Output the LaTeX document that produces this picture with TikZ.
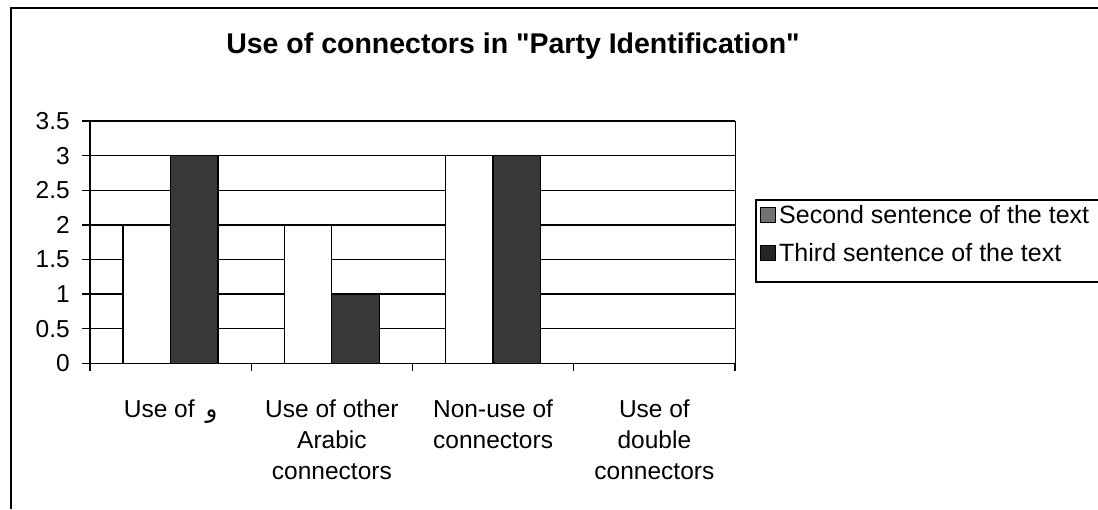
\documentclass[tikz,border=0pt]{standalone}
\usepackage{fontspec}
\setmainfont{Liberation Sans}
\newfontfamily\arabicfont[Script=Arabic]{DejaVu Sans}
\TeXXeTstate=1

\begin{document}
\begin{tikzpicture}[x=1pt,y=-1pt,
  frameline/.style={line width=1.6pt},
  gridline/.style={line width=1.4pt},
  tickline/.style={line width=1.2pt},
  barsecond/.style={draw=black,line width=1.3pt,fill=white},
  barthird/.style={draw=black,line width=1.3pt,fill=black!78},
  ylab/.style={font=\fontsize{24.5}{28}\selectfont,inner sep=0pt,anchor=east},
  xlab/.style={font=\fontsize{24.5}{31}\selectfont,inner sep=0pt,anchor=north,align=center},
  leglab/.style={font=\fontsize{25}{28}\selectfont,inner sep=0pt,anchor=base west},
  titlelab/.style={font=\bfseries\fontsize{28.5}{32}\selectfont,inner sep=0pt}
]
\useasboundingbox (0,0) rectangle (1098,509);

% outer chart frame (left and top edges)
\draw[frameline] (11,509) -- (11,8) -- (1098,8);

% title
\node[titlelab] (title) at (513,46) {Use of connectors in \textquotedbl Party Identification\textquotedbl};

% plot area: y(v) = 363.3 - 69.2 v, categories 161.25 wide from x = 90
\foreach \v/\t in {0/0,0.5/0.5,1/1,1.5/1.5,2/2,2.5/2.5,3/3,3.5/3.5}{
  \draw[gridline] (82,{363.3-69.2*\v}) -- (735,{363.3-69.2*\v});
  \node[ylab] (y\v) at (70,{363.3-69.2*\v}) {\t};
}
\draw[gridline] (90,121.1) -- (90,363.3);
\draw[line width=1pt] (735,121.1) -- (735,363.3);
\foreach \i in {0,1,2,3,4}{
  \draw[tickline] ({90+161.25*\i},363.3) -- ({90+161.25*\i},371);
}

% bars: second sentence / third sentence
\foreach \i/\a/\b in {0/2/3,1/2/1,2/3/3}{
  \pgfmathsetmacro{\g}{90+161.25*\i}
  \draw[barsecond] ({\g+33},363.3) rectangle ({\g+80.5},{363.3-69.2*\a});
  \draw[barthird] ({\g+80.5},363.3) rectangle ({\g+128},{363.3-69.2*\b});
}

% category labels
\node[xlab] (c1) at (170.6,400) {Use of \,{\arabicfont\beginR و\endR}};
\node[xlab] (c2) at (331.9,400) {Use of other\\Arabic\\connectors};
\node[xlab] (c3) at (493.1,400) {Non-use of\\connectors};
\node[xlab] (c4) at (654.4,400) {Use of\\double\\connectors};

% legend
\draw[line width=1.2pt] (756,200) rectangle (1110,282);
\draw[line width=0.8pt,fill=black!55] (760,207) rectangle (775,222);
\draw[line width=0.8pt,fill=black!85] (760,245) rectangle (775,260);
\node[leglab] (l1) at (779,223) {Second sentence of the text};
\node[leglab] (l2) at (779,261) {Third sentence of the text};
\end{tikzpicture}
\end{document}
